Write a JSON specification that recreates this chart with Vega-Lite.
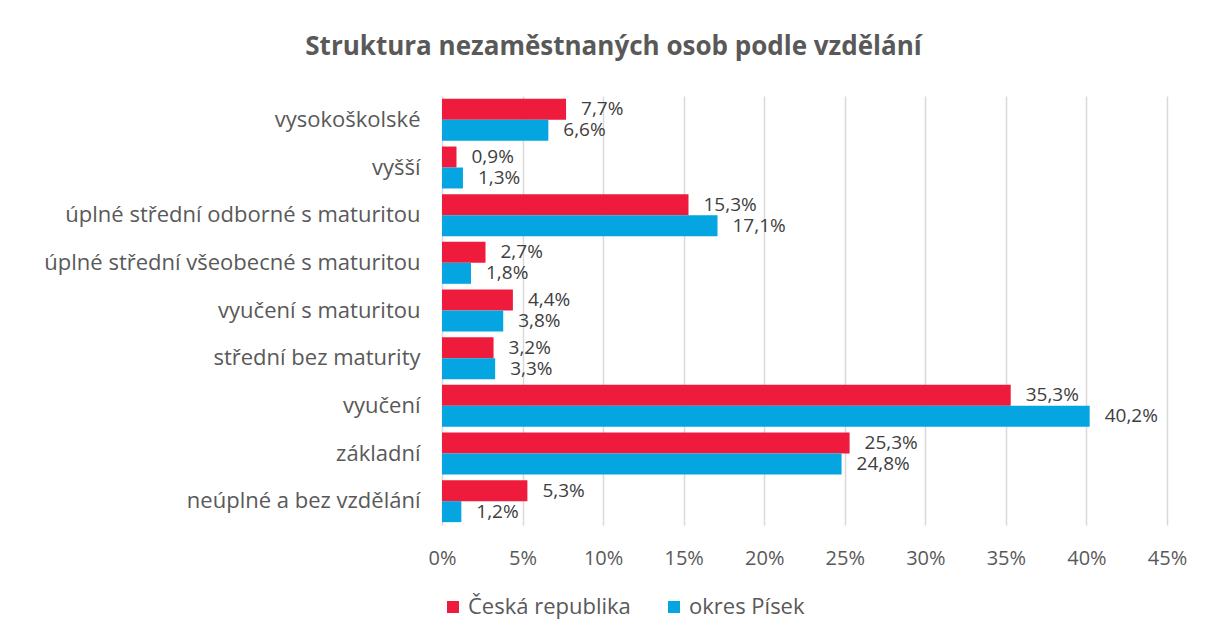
{
  "$schema": "https://vega.github.io/schema/vega-lite/v6.json",
  "autosize": "none",
  "width": 725,
  "height": 429,
  "padding": {"left": 442, "top": 96, "right": 42, "bottom": 114},
  "background": "white",
  "config": {
    "locale": {"number": {"decimal": ",", "thousands": " ", "grouping": [3], "currency": ["", " Kč"]}},
    "view": {"stroke": null},
    "font": "Open Sans"
  },
  "title": {
    "text": "Struktura nezaměstnaných osob podle vzdělání",
    "anchor": "middle",
    "frame": "group",
    "dx": -191,
    "offset": 36,
    "fontSize": 26,
    "fontWeight": "bold",
    "color": "#595959",
    "font": "Open Sans"
  },
  "data": {
    "values": [
      {"kat": "vysokoškolské", "serie": "Česká republika", "v": 0.077},
      {"kat": "vysokoškolské", "serie": "okres Písek", "v": 0.066},
      {"kat": "vyšší", "serie": "Česká republika", "v": 0.009},
      {"kat": "vyšší", "serie": "okres Písek", "v": 0.013},
      {"kat": "úplné střední odborné s maturitou", "serie": "Česká republika", "v": 0.153},
      {"kat": "úplné střední odborné s maturitou", "serie": "okres Písek", "v": 0.171},
      {"kat": "úplné střední všeobecné s maturitou", "serie": "Česká republika", "v": 0.027},
      {"kat": "úplné střední všeobecné s maturitou", "serie": "okres Písek", "v": 0.018},
      {"kat": "vyučení s maturitou", "serie": "Česká republika", "v": 0.044},
      {"kat": "vyučení s maturitou", "serie": "okres Písek", "v": 0.038},
      {"kat": "střední bez maturity", "serie": "Česká republika", "v": 0.032},
      {"kat": "střední bez maturity", "serie": "okres Písek", "v": 0.033},
      {"kat": "vyučení", "serie": "Česká republika", "v": 0.353},
      {"kat": "vyučení", "serie": "okres Písek", "v": 0.402},
      {"kat": "základní", "serie": "Česká republika", "v": 0.253},
      {"kat": "základní", "serie": "okres Písek", "v": 0.248},
      {"kat": "neúplné a bez vzdělání", "serie": "Česká republika", "v": 0.053},
      {"kat": "neúplné a bez vzdělání", "serie": "okres Písek", "v": 0.012}
    ]
  },
  "encoding": {
    "y": {
      "field": "kat",
      "type": "nominal",
      "sort": null,
      "scale": {"paddingInner": 0.12, "paddingOuter": 0.06},
      "axis": {
        "title": null,
        "ticks": false,
        "domain": false,
        "labelFontSize": 22,
        "labelColor": "#595959",
        "labelPadding": 22,
        "labelLimit": 420,
        "labelFont": "Open Sans"
      }
    },
    "yOffset": {"field": "serie", "type": "nominal", "sort": ["Česká republika", "okres Písek"]},
    "x": {
      "field": "v",
      "type": "quantitative",
      "scale": {"domain": [0, 0.45], "nice": false},
      "axis": {
        "title": null,
        "format": ".0%",
        "values": [0, 0.05, 0.1, 0.15, 0.2, 0.25, 0.3, 0.35, 0.4, 0.45],
        "ticks": false,
        "domain": false,
        "grid": true,
        "gridColor": "#d9d9d9",
        "gridWidth": 1.5,
        "labelFlush": false,
        "labelFontSize": 20,
        "labelColor": "#595959",
        "labelPadding": 23,
        "labelFont": "Open Sans"
      }
    }
  },
  "layer": [
    {
      "mark": {"type": "bar"},
      "encoding": {
        "color": {
          "field": "serie",
          "type": "nominal",
          "scale": {"domain": ["Česká republika", "okres Písek"], "range": ["#EE1B3C", "#04A5E0"]},
          "legend": {
            "title": null,
            "orient": "none",
            "direction": "horizontal",
            "legendX": 0,
            "legendY": 500,
            "symbolType": "square",
            "symbolSize": 144,
            "symbolStrokeWidth": 0,
            "labelFontSize": 22,
            "labelLimit": 300,
            "labelColor": "#595959",
            "labelFont": "Open Sans",
            "columnPadding": 32,
            "labelOffset": 4
          }
        }
      }
    },
    {
      "mark": {"type": "text", "align": "left", "dx": 15, "fontSize": 19, "color": "#404040", "font": "Open Sans"},
      "encoding": {
        "text": {"field": "v", "type": "quantitative", "format": ".1%"}
      }
    }
  ]
}
